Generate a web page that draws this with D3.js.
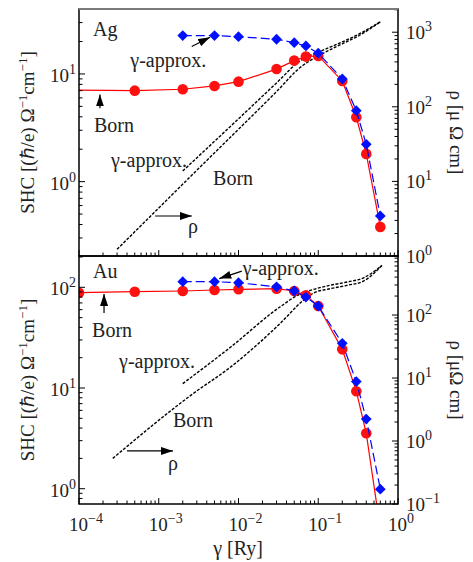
<!DOCTYPE html>
<html>
<head>
<meta charset="utf-8">
<script src="https://cdn.jsdelivr.net/npm/d3@7/dist/d3.min.js"></script>
<style>
  body { margin: 0; background: #fff; }
  text { font-family: "Liberation Serif", "Times New Roman", serif; fill: #222; }
</style>
</head>
<body>
<svg id="chart" width="473" height="562"></svg>
<script>
// ---- data ----
const gammaDomain = [1e-4, 1];

// Ag, SHC
const agBornGamma = [5e-5, 5e-4, 2e-3, 5e-3, 1e-2, 3e-2, 5e-2, 7e-2, 0.1, 0.2, 0.3, 0.4, 0.6];
const agBornSHC   = [7.1, 7.0, 7.21, 7.74, 8.48, 11.1, 13.3, 14.5, 14.7, 8.61, 3.96, 1.81, 0.38];
const agApproxGamma = [2e-3, 5e-3, 1e-2, 3e-2, 5e-2, 7e-2, 0.1, 0.2, 0.3, 0.4, 0.6];
const agApproxSHC   = [22.7, 22.7, 22.2, 21.0, 19.5, 18.2, 15.6, 9.0, 4.56, 2.22, 0.48];
// Ag, resistivity
const agRhoBornGamma = [3e-4, 1e-3, 3e-3, 1e-2, 3e-2, 6e-2, 0.1, 0.2, 0.33, 0.6];
const agRhoBorn      = [1.23, 4.4, 14.1, 50, 160, 340, 480, 700, 910, 1380];
const agRhoApproxGamma = [2e-3, 1e-2, 3e-2, 6e-2, 0.1, 0.2, 0.33, 0.6];
const agRhoApprox      = [13.8, 69, 209, 417, 540, 740, 955, 1380];

// Au, SHC
const auBornGamma = [1e-4, 5e-4, 2e-3, 5e-3, 1e-2, 3e-2, 5e-2, 7e-2, 0.1, 0.2, 0.3, 0.4, 0.6];
const auBornSHC   = [88.4, 90.4, 91.9, 94, 95.5, 96.9, 91.9, 83.3, 65.2, 24.2, 9.3, 3.55, 0.4];
const auApproxGamma = [2e-3, 5e-3, 1e-2, 3e-2, 5e-2, 7e-2, 0.1, 0.2, 0.3, 0.4, 0.6];
const auApproxSHC   = [113.7, 113.7, 111, 101, 91.9, 80.1, 65.2, 27.8, 11.6, 4.92, 0.99];
// Au, resistivity
const auRhoBornGamma = [2.65e-4, 2.7e-3, 8e-3, 0.033, 0.065, 0.087, 0.14, 0.23, 0.37, 0.63];
const auRhoBorn      = [0.53, 5.66, 15, 72.8, 171, 223, 261, 296, 346, 614];
const auRhoApproxGamma = [2e-3, 8e-3, 0.033, 0.06, 0.087, 0.14, 0.23, 0.37, 0.63];
const auRhoApprox      = [8.15, 31.1, 134, 218, 255, 296, 334, 390, 614];

// annotations (data coordinates of the left axis)
const agNotes = [
  {t: "Ag", g: 1.5e-4, v: 22.5},
  {t: "γ-approx.", g: 4.4e-4, v: 11.6},
  {t: "Born", g: 1.54e-4, v: 2.9},
  {t: "γ-approx.", g: 2.52e-4, v: 1.37},
  {t: "Born", g: 4.8e-3, v: 0.93},
  {t: "ρ", g: 2.33e-3, v: 0.333}
];
const agArrows = [
  {g0: 2.59e-3, v0: 18.0, g1: 4.4e-3, v1: 21.9},
  {g0: 1.83e-4, v0: 4.8, g1: 1.83e-4, v1: 6.45},
  {g0: 9e-4, v0: 0.48, g1: 2.6e-3, v1: 0.48}
];
const auNotes = [
  {t: "Au", g: 1.5e-4, v: 124},
  {t: "γ-approx.", g: 0.0113, v: 132.5},
  {t: "Born", g: 1.46e-4, v: 32},
  {t: "γ-approx.", g: 3.18e-4, v: 15.8},
  {t: "Born", g: 1.51e-3, v: 4.1},
  {t: "ρ", g: 1.31e-3, v: 1.53}
];
const auArrows = [
  {g0: 0.011, v0: 145, g1: 5.74e-3, v1: 122},
  {g0: 2.06e-4, v0: 55.5, g1: 2.06e-4, v1: 86},
  {g0: 4e-4, v0: 2.37, g1: 1.51e-3, v1: 2.37}
];

const zip = (a, b) => a.map((d, i) => [d, b[i]]);

const svg = d3.select("#chart");
const left = 79, right = 398;

const defs = svg.append("defs");
defs.append("marker")
  .attr("id", "head")
  .attr("viewBox", "0 0 12 8")
  .attr("refX", 12).attr("refY", 4)
  .attr("markerWidth", 12).attr("markerHeight", 8)
  .attr("markerUnits", "userSpaceOnUse")
  .attr("orient", "auto")
  .append("path").attr("d", "M0,0 L12,4 L0,8 Z").attr("fill", "#000");

function powLabel(sel, k) {
  sel.append("tspan").text("10");
  sel.append("tspan").attr("dy", -8).attr("font-size", 14)
    .text(k < 0 ? "\u2212" + (-k) : k);
}

const isMajor = t => Math.abs(Math.log10(t) - Math.round(Math.log10(t))) < 1e-6;

function drawPanel(p) {
  const g = svg.append("g");
  const x = d3.scaleLog().domain(gammaDomain).range([left, right]);
  const yL = d3.scaleLog().domain(p.yL).range([p.bottom, p.top]);
  const yR = d3.scaleLog().domain(p.yR).range([p.bottom, p.top]);

  defs.append("clipPath").attr("id", "clip" + p.id)
    .append("rect").attr("x", left).attr("y", p.top)
    .attr("width", right - left).attr("height", p.bottom - p.top);

  const plot = g.append("g").attr("clip-path", "url(#clip" + p.id + ")");

  const lineR = d3.line().x(d => x(d[0])).y(d => yR(d[1])).curve(d3.curveMonotoneX);
  const lineL = d3.line().x(d => x(d[0])).y(d => yL(d[1]));

  // resistivity curves
  [p.rhoApprox, p.rhoBorn].forEach(c => {
    plot.append("path").datum(c).attr("d", lineR)
      .attr("fill", "none").attr("stroke", "#000")
      .attr("stroke-width", 1.4).attr("stroke-dasharray", "3,1.5");
  });

  // Born SHC
  plot.append("path").datum(p.born).attr("d", lineL)
    .attr("fill", "none").attr("stroke", "#ff0000").attr("stroke-width", 1.2);
  plot.selectAll(".born").data(p.born).join("circle")
    .attr("class", "born")
    .attr("cx", d => x(d[0])).attr("cy", d => yL(d[1])).attr("r", 5.3)
    .attr("fill", "#ff1010");

  // gamma-approx SHC
  plot.append("path").datum(p.approx).attr("d", lineL)
    .attr("fill", "none").attr("stroke", "#0000ff").attr("stroke-width", 1.2)
    .attr("stroke-dasharray", "9,4");
  const diamond = d3.symbol(d3.symbolSquare, 58);
  plot.selectAll(".approx").data(p.approx).join("path")
    .attr("class", "approx")
    .attr("d", diamond)
    .attr("transform", d => `translate(${x(d[0])},${yL(d[1])}) rotate(45)`)
    .attr("fill", "#0010ff");

  // ticks
  const tk = g.append("g").attr("stroke", "#000").attr("stroke-width", 1);
  tk.selectAll(".xt").data(x.ticks()).join("line")
    .attr("x1", d => x(d)).attr("x2", d => x(d))
    .attr("y1", p.bottom).attr("y2", d => p.bottom - (isMajor(d) ? 6 : 3.5));
  tk.selectAll(".lt").data(yL.ticks()).join("line")
    .attr("y1", d => yL(d)).attr("y2", d => yL(d))
    .attr("x1", left).attr("x2", d => left + (isMajor(d) ? 6 : 3.5));
  tk.selectAll(".rt").data(yR.ticks()).join("line")
    .attr("y1", d => yR(d)).attr("y2", d => yR(d))
    .attr("x1", right).attr("x2", d => right - (isMajor(d) ? 6 : 3.5));

  // frame
  g.append("rect").attr("x", left).attr("y", p.top)
    .attr("width", right - left).attr("height", p.bottom - p.top)
    .attr("fill", "none").attr("stroke", "#000").attr("stroke-width", 1.5);
  if (p.id === "ag") {
    g.append("line").attr("x1", left).attr("x2", right)
      .attr("y1", p.top).attr("y2", p.top)
      .attr("stroke", "#7a7a7a").attr("stroke-width", 2);
  }

  // tick labels
  yL.ticks().filter(isMajor).forEach(t => {
    g.append("text").attr("x", left - 3).attr("y", yL(t) + 8)
      .attr("text-anchor", "end").attr("font-size", 19)
      .call(powLabel, Math.round(Math.log10(t)));
  });
  yR.ticks().filter(isMajor).forEach(t => {
    g.append("text").attr("x", right + 8).attr("y", yR(t) + 7)
      .attr("font-size", 19)
      .call(powLabel, Math.round(Math.log10(t)));
  });
  if (p.xLabels) {
    x.ticks().filter(isMajor).forEach(t => {
      g.append("text").attr("x", x(t) - 10).attr("y", p.bottom + 27)
        .attr("font-size", 19)
        .call(powLabel, Math.round(Math.log10(t)));
    });
  }

  // axis titles
  const cy = (p.top + p.bottom) / 2;
  const lt = g.append("text").attr("font-size", 19).attr("text-anchor", "middle")
    .attr("transform", `translate(34,${cy}) rotate(-90)`);
  lt.append("tspan").text("SHC [(\u210F/e) \u03A9");
  lt.append("tspan").attr("dy", -7).attr("font-size", 13).text("\u22121");
  lt.append("tspan").attr("dy", 7).text("cm");
  lt.append("tspan").attr("dy", -7).attr("font-size", 13).text("\u22121");
  lt.append("tspan").attr("dy", 7).text("]");

  g.append("text").attr("font-size", 19).attr("text-anchor", "middle")
    .attr("transform", `translate(450,${cy}) rotate(90)`)
    .text(p.rhoTitle);

  // annotations
  p.notes.forEach(n => {
    g.append("text").attr("x", x(n.g)).attr("y", yL(n.v))
      .attr("font-size", 20).text(n.t);
  });
  p.arrows.forEach(a => {
    g.append("line")
      .attr("x1", x(a.g0)).attr("y1", yL(a.v0))
      .attr("x2", x(a.g1)).attr("y2", yL(a.v1))
      .attr("stroke", "#000").attr("stroke-width", 1.2)
      .attr("marker-end", "url(#head)");
  });
}

drawPanel({
  id: "ag", top: 9, bottom: 256,
  yL: [0.204, 40.1], yR: [1, 2047],
  born: zip(agBornGamma, agBornSHC), approx: zip(agApproxGamma, agApproxSHC),
  rhoBorn: zip(agRhoBornGamma, agRhoBorn), rhoApprox: zip(agRhoApproxGamma, agRhoApprox),
  notes: agNotes, arrows: agArrows, rhoTitle: "ρ [μ Ω cm]", xLabels: false
});
drawPanel({
  id: "au", top: 256, bottom: 504,
  yL: [0.705, 204.6], yR: [0.1, 865],
  born: zip(auBornGamma, auBornSHC), approx: zip(auApproxGamma, auApproxSHC),
  rhoBorn: zip(auRhoBornGamma, auRhoBorn), rhoApprox: zip(auRhoApproxGamma, auRhoApprox),
  notes: auNotes, arrows: auArrows, rhoTitle: "ρ [μΩ cm]", xLabels: true
});

svg.append("text").attr("x", 238).attr("y", 555)
  .attr("text-anchor", "middle").attr("font-size", 20).text("γ [Ry]");
</script>
</body>
</html>
